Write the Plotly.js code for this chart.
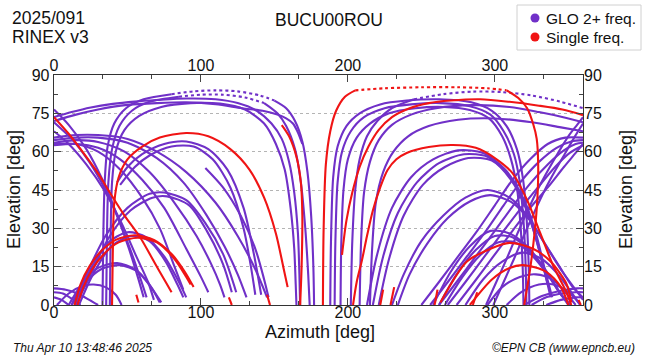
<!DOCTYPE html>
<html>
<head>
<meta charset="utf-8">
<script src="https://cdn.plot.ly/plotly-3.0.1.min.js"></script>
<style>html,body{margin:0;padding:0;background:#fff;}#chart{width:650px;height:360px;}</style>
</head>
<body>
<div id="chart"></div>
<script>
// ---- axis tick values ----
const xTickVals = [0, 100, 200, 300];
const xMinorVals = [33.33, 66.67, 133.33, 166.67, 233.33, 266.67, 333.33];
const yTickVals = [0, 15, 30, 45, 60, 75, 90];
const yMinorVals = [7.5, 22.5, 37.5, 52.5, 67.5, 82.5];

// ---- GLO 2+ freq. tracks (azimuth / elevation, degrees), solid parts ----
const gloAz = [
  [0,10,22,33,43,51,57,61],
  [0,12,24,35,45,53,59,63],
  [0,10,22,34,46,56,64,68],
  [0,15,30,50,70,90,110,125,137,145],
  [0,15,30,50,70,88,104,116,125,131],
  [0,15,30,48,65,82,97,107,113,116],
  [0,15,30,45,60,75,90,100,105],
  [0,15,30,45,60,72,82,88],
  [43,50,60,75,90,105,118,129,136,141],
  [45,55,65,80,95,108,120,129,134,137],
  [103,115,127,137,143,146],
  [12,22,35,50,65,75,90,103,115,124],
  [15,25,38,52,67,77,92,104,115,121],
  [14,24,36,50,63,75,85,90],
  [17,27,39,53,65,76,84,88],
  [10,20,30,43,55,65,72],
  [12,22,32,45,57,66,73],
  [2,10,20,27,35,42,46],
  [0,6,12,18],
  [0,5,10],
  [0,8,16,24,30],
  [33,33.5,34.5,36.5,41,49,61,80],
  [150,158,164,169,172.5,175,176.5,177],
  [35.5,36,37,39.5,44.5,53,65,85],
  [143,152,158,164,168,171,173,174],
  [0,12,25,40,55,70,90,110,125,138,148,155,160,163.5,166,167,167.5],
  [0,15,30,50,70,90,110,128,142,152,158,162.6,166,169],
  [38,38.5,39.5,42,48,58,73,93,113,130,143,151,157,161,163.5,164.5,165],
  [188,188.5,190,193,199,208,222,240,262,284,298,308,315,319,321.5,323,323.5],
  [191,191.5,193,196,202,211,225,243,263,283,297,306,313,317,319.5,321,321.5],
  [195,195.5,197,200,206,215,228,246,265,283,296,305,311,315,317.5,319,319.5],
  [202,203,205,208,213,220,230,245],
  [208,209,211,215,221,230,243,260,285,310,330,348,360],
  [215,216.5,219,224,231,241,255,275,300,325,345,360],
  [294,301,308,315,322,329,336,343,350,356,360],
  [299,306,313,320,327,334,341,348,354,360],
  [250,262,275,288,300,312,324,336,348,360],
  [256,268,281,294,306,318,330,342,352,360],
  [262,274,287,300,312,324,336,347,355,360],
  [268,280,293,306,318,330,341,351,360],
  [274,286,299,312,324,336,347,355,360],
  [213,220,230,243,258,275,292,307,318,326,333,338],
  [217,224,234,247,262,279,295,309,320,328,334,339],
  [221,228,238,251,266,282,298,311,321,329,336],
  [230,238,250,265,280,295,310,322,333,344,353,360],
  [234,242,254,268,283,297,312,324,335,346,355,360],
  [258,270,283,297,310,322,333,343,350],
  [262,274,287,300,312,324,335,344,351],
  [266,278,290,302,314,326,337,345,352],
  [280,292,305,319,332,343,352,358],
  [295,305,317,328,339,348,355],
  [308,318,330,340,350,357],
  [325,335,345,355,360],
  [320,332,344,356,360],
  [335,345,355,360]
];
const gloEl = [
  [76.5,70.5,61,49,35,22,11,3],
  [71.5,65,56,45,32,20,10,3],
  [68,63,55,45,32,19,9,2],
  [65.5,66.5,66.5,65,60,52,40,27,14,3],
  [64.5,65.5,65.5,63.5,57.5,48,35,23,12,3],
  [63.5,64.5,63.8,60,52,40,27,16,8,3],
  [62.5,63,61.5,57,49,38,22,11,5],
  [63,63,60,53,42,30,15,6],
  [48,54,59,63,64,61,53,38,20,4],
  [47,54,58.5,62,62,57,46,30,15,4],
  [53.6,46,35,22,10,3],
  [0,12,27,38,43.5,44,41,32,20,5],
  [0,12,27,37,42,42.5,39,29,16,5],
  [0,13,24,28.5,26.5,19,9,3],
  [0,12.5,23,27,25,17,8,3],
  [0,9,14.5,16.4,14,8,1],
  [0,9,14,15.6,13,7,1],
  [0,4.5,7.5,8,7,4,0],
  [5,4.5,2.5,0],
  [3,2,0],
  [6.5,6,4.5,2,0],
  [0,25,48,62,71,77,80.5,82.5],
  [80,77,72,64,52,35,15,0],
  [0,25,48,61,70,76,79.5,81.5],
  [79,75,70,61,48,30,12,0],
  [73.5,75.5,77.3,78.7,79.6,80.2,80.8,80.5,79,76,71,65,56,44,28,12,0],
  [72,74.5,76.5,78.3,79,79.3,78.6,77,76,74.5,73,71,67.5,63],
  [0,25,48,60,68.5,74,77.5,79,78.8,76.5,71,63,53,38,22,8,0],
  [0,25,50,62,70,75,78.5,80,80.5,79.3,76,70,61,50,35,16,0],
  [0,25,48,60,68,73.5,77,78.5,79,77.8,74.5,68,59,48,33,15,0],
  [0,24,45,57,65.5,71,75,77,77.5,76.3,73,66,57,46,31,14,0],
  [0,25,45,57,66,72,77,80.5],
  [0,25,44,56,64.5,70.5,74.5,77,78.2,77.5,75.5,73.3,71.5],
  [0,22,40,52,60,66,70,72.5,73,71.5,69.5,68],
  [0,9,18,27.5,36.5,45,52.5,59.5,66,70.5,73.5],
  [0,9,18,27.5,36.5,45,52.5,59.5,65.5,71],
  [0,9,19,29,39,49,57,63,65.5,65.5],
  [0,9,19,29,39,48.5,56,61.5,64,64.5],
  [0,9,19,29,38.5,47.5,55,60.5,63,63.5],
  [0,9,19,29,38,46.5,54,59.5,62.5],
  [0,9,19,29,38,46,54,59.5,63],
  [0,20,38,50,57,60.5,59.5,53,43,30,15,3],
  [0,19,36,48,55.5,59,58,51,41,28,14,3],
  [0,18,35,47,54,57.5,56.5,49,38,24,8],
  [0,12,25,35,42,45,42,35,25,15,7,3],
  [0,12,24,34,40.5,43,40,33,23,13,6,2],
  [0,13,23,29,28,23,15,6,0],
  [0,12,21.5,27,26.5,21,13,5,0],
  [0,11,19.5,24.5,24.5,19,11,4,0],
  [0,10,17,20.5,18,12,5,0],
  [0,7,11,12,10,5,0],
  [0,5,8,8,5,1],
  [0,3,4.5,5,5],
  [0,3.5,5.5,6.5,6.5],
  [0,2,3,3]
];
// sparse (dotted-looking) high-elevation parts of GLO tracks
const gloDotAz = [
  [80,95,110,125,140,150],
  [85,100,115,130,143],
  [245,265,285,305,325,345,360]
];
const gloDotEl = [
  [82.5,83.6,84,83.6,82,80],
  [81.5,82.3,82.3,81.2,79],
  [80.5,82.5,83.5,83.3,82,79.5,77]
];

// ---- Single freq. tracks ----
const sglAz = [
  [0,10,20,30,38,48,58.5,68,76,80],
  [39.5,40,41,44,50,60,72,90,105,120,133,143,151,156,159],
  [155,160,165,168,169,168.5,167.5],
  [183,183.5,185,188,192,198,205],
  [308,316,322,326,328.5,329.5,329,327,324,320],
  [14,18,24,32,42,55,68,80,89,95],
  [16,20,26,34,44,57,70,82,90,93],
  [196,199,203,208,214,221,230,242,255,270,290,310,330,346,360],
  [203.5,206,209.6,213,217,222,227,233,240,255,271.5,287,300,312,322,331,340,349,352],
  [263,281,297,310,326,338,349,352],
  [283,298,310,319,335,345,350],
  [56,57.5],[119,121],[145,147],[222,224],[229,231.5],[259,261],[285,288],[357,358.5]
];
const sglEl = [
  [73.5,67,59.5,51.5,44,35,26.6,17,9,5],
  [0,20,40,50,57,62,65.5,67.3,66,61,53,42,28,15,7],
  [70.4,66,58,48,35,15,0],
  [0,30,55,68,76,81.5,84],
  [84,81,77,71,65,55,42,28,14,0],
  [0,8,15,21,25.5,27.3,25.5,20,13,7],
  [0,7,14,20,24.5,26.3,24.5,18,11,8],
  [19.6,33,44,54,62,68.5,73.5,77,79,80,80.5,79.5,78,76.5,74.3],
  [0,9,17.6,27,37,46,52.8,57,59.5,61.8,62.6,61.5,57.5,51.6,41,28,15,4.7,0],
  [1,17,22,24.3,22,17,8,1],
  [0,10,14.5,15.6,13,7,0],
  [4,1],[3,0],[4,0],[0,6],[0,7],[0,6],[0,5],[2,0]
];
const sglDotAz = [[205,225,250,275,295,308]];
const sglDotEl = [[84,84.8,85.2,85.2,84.8,84]];

// ---- labels ----
const seriesNames = ['GLO 2+ freq.', 'Single freq.'];
const gloColor = '#7030c8';
const sglColor = '#f01414';

const traces = [];
function addTracks(azs, els, color, dash) {
  for (let i = 0; i < azs.length; i++) {
    traces.push({
      x: azs[i], y: els[i], type: 'scatter', mode: 'lines',
      line: {color: color, width: 2.1, shape: 'spline', smoothing: 0.8, dash: dash},
      hoverinfo: 'skip', showlegend: false, cliponaxis: true
    });
  }
}
addTracks(gloAz, gloEl, gloColor, 'solid');
addTracks(gloDotAz, gloDotEl, gloColor, 'dot');
addTracks(sglAz, sglEl, sglColor, 'solid');
addTracks(sglDotAz, sglDotEl, sglColor, 'dot');
// dummy traces so the mirrored axes are drawn
traces.push({x: [null], y: [null], xaxis: 'x2', yaxis: 'y', showlegend: false, hoverinfo: 'skip'});
traces.push({x: [null], y: [null], xaxis: 'x', yaxis: 'y2', showlegend: false, hoverinfo: 'skip'});

const W = 650, H = 360, L = 54, R = 67, T = 75, B = 55;
const pw = W - L - R, ph = H - T - B;
const px = v => (v - L) / pw;           // pixel x -> paper x
const py = v => (H - B - v) / ph;       // pixel y -> paper y

const FONT = 'Liberation Sans, Arial, sans-serif';
const axisBase = {
  ticks: 'inside', ticklen: 7, tickwidth: 1, tickcolor: '#444',
  tickfont: {family: FONT, size: 16, color: '#111'},
  zeroline: false
};

const layout = {
  width: W, height: H,
  margin: {l: L, r: R, t: T, b: B, pad: 0},
  paper_bgcolor: '#fff', plot_bgcolor: '#fff',
  font: {family: FONT, size: 16, color: '#111'},
  showlegend: false,
  xaxis: Object.assign({}, axisBase, {
    range: [0, 360], tickmode: 'array', tickvals: xTickVals,
    ticklabelposition: 'outside', ticklabelstandoff: -8,
    minor: {tickmode: 'array', tickvals: xMinorVals, ticks: 'inside', ticklen: 4, tickcolor: '#444'},
    showline: true, linecolor: '#333', linewidth: 1.3, mirror: true, showgrid: false
  }),
  xaxis2: Object.assign({}, axisBase, {
    range: [0, 360], tickmode: 'array', tickvals: xTickVals,
    minor: {tickmode: 'array', tickvals: xMinorVals, ticks: 'inside', ticklen: 4, tickcolor: '#444'},
    overlaying: 'x', side: 'top', anchor: 'y', showline: false, showgrid: false
  }),
  yaxis: Object.assign({}, axisBase, {
    range: [0, 90], tickmode: 'array', tickvals: yTickVals,
    minor: {tickmode: 'array', tickvals: yMinorVals, ticks: 'inside', ticklen: 4, tickcolor: '#444'},
    showline: true, linecolor: '#333', linewidth: 1.3, mirror: true,
    showgrid: true, gridcolor: '#b4b4b4', griddash: 'dot', gridwidth: 1
  }),
  yaxis2: Object.assign({}, axisBase, {
    range: [0, 90], tickmode: 'array', tickvals: yTickVals,
    minor: {tickmode: 'array', tickvals: yMinorVals, ticks: 'inside', ticklen: 4, tickcolor: '#444'},
    overlaying: 'y', side: 'right', anchor: 'x', showline: false, showgrid: false
  }),
  shapes: [
    {type: 'rect', xref: 'paper', yref: 'paper', x0: px(517), x1: px(641), y0: py(50), y1: py(5),
     line: {color: '#d0d0d0', width: 1}, fillcolor: '#fff'},
    {type: 'circle', xref: 'paper', yref: 'paper', xsizemode: 'pixel', ysizemode: 'pixel',
     xanchor: px(535), yanchor: py(18), x0: -4.5, x1: 4.5, y0: -4.5, y1: 4.5,
     fillcolor: gloColor, line: {width: 0}},
    {type: 'circle', xref: 'paper', yref: 'paper', xsizemode: 'pixel', ysizemode: 'pixel',
     xanchor: px(535), yanchor: py(37), x0: -4.5, x1: 4.5, y0: -4.5, y1: 4.5,
     fillcolor: sglColor, line: {width: 0}}
  ],
  annotations: [
    {text: seriesNames[0], xref: 'paper', yref: 'paper', x: px(544), y: py(18), xanchor: 'left', yanchor: 'middle',
     showarrow: false, font: {family: FONT, size: 15.5, color: '#111'}},
    {text: seriesNames[1], xref: 'paper', yref: 'paper', x: px(544), y: py(37), xanchor: 'left', yanchor: 'middle',
     showarrow: false, font: {family: FONT, size: 15.5, color: '#111'}},
    {text: 'BUCU00ROU', xref: 'paper', yref: 'paper', x: px(329), y: py(20), xanchor: 'center', yanchor: 'middle',
     showarrow: false, font: {family: FONT, size: 17.5, color: '#111'}},
    {text: '2025/091', xref: 'paper', yref: 'paper', x: px(10), y: py(18), xanchor: 'left', yanchor: 'middle',
     showarrow: false, font: {family: FONT, size: 17.5, color: '#111'}},
    {text: 'RINEX v3', xref: 'paper', yref: 'paper', x: px(10), y: py(37), xanchor: 'left', yanchor: 'middle',
     showarrow: false, font: {family: FONT, size: 17.5, color: '#111'}},
    {text: 'Azimuth [deg]', xref: 'paper', yref: 'paper', x: px(320), y: py(332), xanchor: 'center', yanchor: 'middle',
     showarrow: false, font: {family: FONT, size: 18, color: '#111'}},
    {text: 'Elevation [deg]', xref: 'paper', yref: 'paper', x: px(14), y: py(190), xanchor: 'center', yanchor: 'middle',
     textangle: -90, showarrow: false, font: {family: FONT, size: 18, color: '#111'}},
    {text: 'Elevation [deg]', xref: 'paper', yref: 'paper', x: px(626), y: py(190), xanchor: 'center', yanchor: 'middle',
     textangle: -90, showarrow: false, font: {family: FONT, size: 18, color: '#111'}},
    {text: 'Thu Apr 10 13:48:46 2025', xref: 'paper', yref: 'paper', x: px(11), y: py(348), xanchor: 'left', yanchor: 'middle',
     showarrow: false, font: {family: FONT, size: 12, color: '#111', style: 'italic'}},
    {text: '©EPN CB (www.epncb.eu)', xref: 'paper', yref: 'paper', x: px(637), y: py(348), xanchor: 'right', yanchor: 'middle',
     showarrow: false, font: {family: FONT, size: 12, color: '#111', style: 'italic'}}
  ]
};

Plotly.newPlot('chart', traces, layout, {staticPlot: true, displayModeBar: false});
</script>
</body>
</html>
